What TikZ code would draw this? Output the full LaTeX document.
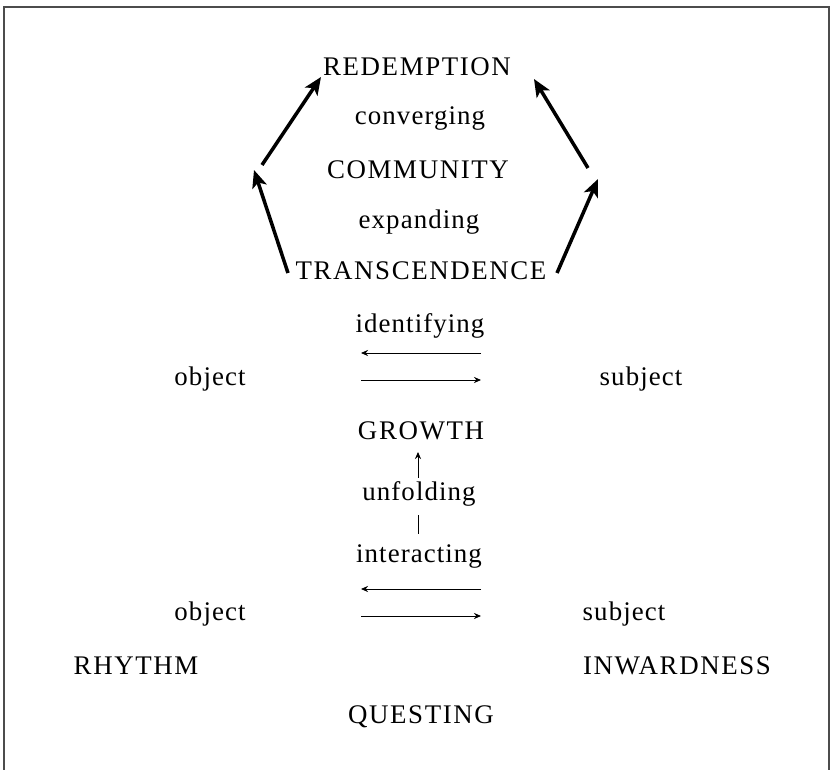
\documentclass[tikz,border=0pt]{standalone}
\usepackage{fontspec}
\setmainfont[LetterSpace=4]{Liberation Serif}
\usepackage{tikz}
\usetikzlibrary{
  positioning,
  arrows.meta,
  arrows
}

\begin{document}
\begin{tikzpicture}[x=0.02cm,y=-0.02cm,>=latex',
    every node/.style={font=\fontsize{15.3}{18}\selectfont, inner sep=1pt},
    caps/.style={font=\fontsize{15.3}{18}\selectfont\addfontfeature{LetterSpace=6}},
    heavy/.style={-{Stealth[length=10pt,width=8.5pt,inset=2.5pt]}, line width=2pt},
    thinarrow/.style={-{Stealth[length=4pt,width=3.5pt]}, line width=0.55pt}]
            \useasboundingbox (0,0) rectangle (833,770);

            % frame
            \draw[black!70, line width=0.6pt] (4,770) -- (4,7) -- (829,7) -- (829,770);

            % upper hexagon
            \node[caps] (red) at (417,67) {REDEMPTION};
            \node (conv) at (420,119) {converging};
            \node[caps] (com) at (418,170) {COMMUNITY};
            \node (exp) at (419,222) {expanding};
            \node[caps] (tra) at (421,271) {TRANSCENDENCE};

            \coordinate (tl) at (288,273);
            \coordinate (lcor) at (254,170);
            \coordinate (lt) at (262,165);
            \coordinate (redl) at (321,77);
            \coordinate (tr) at (557,273);
            \coordinate (rcor) at (598,179);
            \coordinate (rt) at (588,168);
            \coordinate (redr) at (534,79);
            \draw[heavy] (tl) -- (lcor);
            \draw[heavy] (lt) -- (redl);
            \draw[heavy] (tr) -- (rcor);
            \draw[heavy] (rt) -- (redr);

            % identifying
            \node (ident) at (420,326) {identifying};
            \node (obj1) at (210,379) {object};
            \node (sub1) at (641,379) {subject};
            \coordinate (ia) at (481,353);
            \coordinate (ib) at (361,353);
            \coordinate (ic) at (361,380);
            \coordinate (id) at (481,380);
            \draw[thinarrow] (ia) -- (ib);
            \draw[thinarrow] (ic) -- (id);

            % growth
            \node[caps] (gro) at (421,431) {GROWTH};
            \node (unf) at (419,494) {unfolding};
            \node (inter) at (419,557) {interacting};
            \coordinate (ua) at (418,478);
            \coordinate (ub) at (418,452);
            \coordinate (ba) at (418,534);
            \coordinate (bb) at (418,515);
            \draw[thinarrow] (ua) -- (ub);
            \draw[line width=0.55pt] (ba) -- (bb);

            % interacting
            \node (obj2) at (210,614) {object};
            \node (sub2) at (624,614) {subject};
            \coordinate (ja) at (481,589);
            \coordinate (jb) at (361,589);
            \coordinate (jc) at (361,616);
            \coordinate (jd) at (481,616);
            \draw[thinarrow] (ja) -- (jb);
            \draw[thinarrow] (jc) -- (jd);

            \node[caps] (rhy) at (136,666) {RHYTHM};
            \node[caps] (inw) at (677,666) {INWARDNESS};
            \node[caps] (que) at (421,717) {QUESTING};
        \end{tikzpicture}
\end{document}
